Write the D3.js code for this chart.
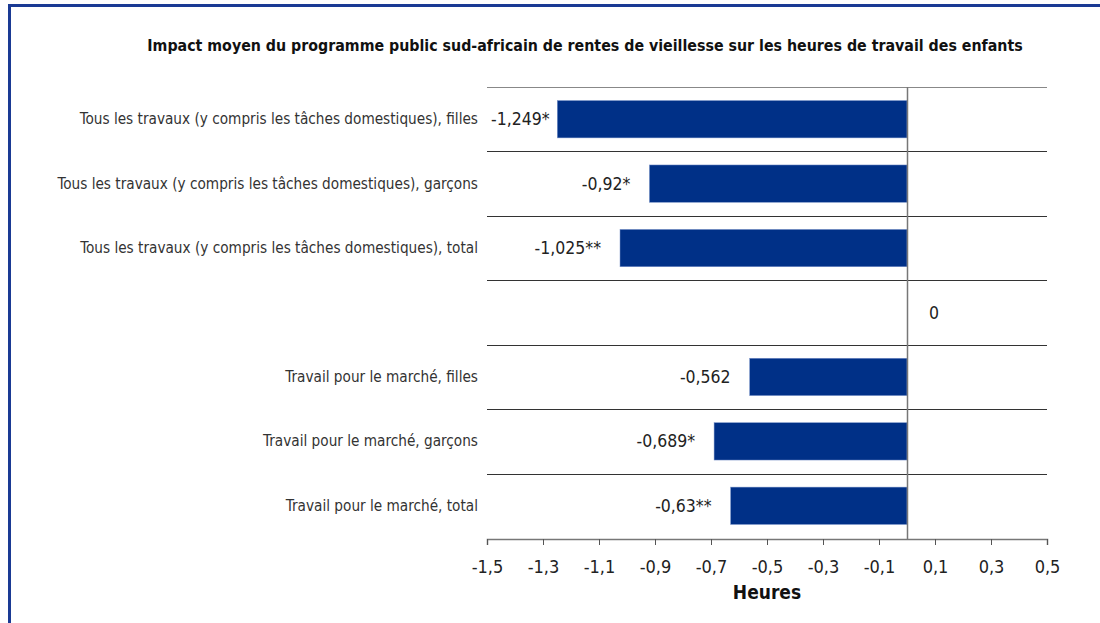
<!DOCTYPE html>
<html>
<head>
<meta charset="utf-8">
<script src="https://d3js.org/d3.v7.min.js"></script>
<style>
  body { margin: 0; background: #fff; }
  svg { display: block; }
</style>
</head>
<body>
<script>
var categories = [
  "Tous les travaux (y compris les tâches domestiques), filles",
  "Tous les travaux (y compris les tâches domestiques), garçons",
  "Tous les travaux (y compris les tâches domestiques), total",
  "",
  "Travail pour le marché, filles",
  "Travail pour le marché, garçons",
  "Travail pour le marché, total"
];
var values = [-1.249, -0.92, -1.025, 0, -0.562, -0.689, -0.63];
var valueLabels = ["-1,249*", "-0,92*", "-1,025**", "0", "-0,562", "-0,689*", "-0,63**"];
var xTicks = [-1.5, -1.3, -1.1, -0.9, -0.7, -0.5, -0.3, -0.1, 0.1, 0.3, 0.5];

var W = 1100, H = 623;
var font = "'DejaVu Sans Condensed', 'Liberation Sans Narrow', sans-serif";

var svg = d3.select("body").append("svg")
    .attr("width", W).attr("height", H)
    .style("font-family", font);

// frame
svg.append("rect")
    .attr("x", 9.5).attr("y", 5.5)
    .attr("width", W + 20).attr("height", H + 20)
    .attr("fill", "none").attr("stroke", "#1a3a94").attr("stroke-width", 3);

svg.append("text")
    .attr("x", 585).attr("y", 51)
    .attr("text-anchor", "middle")
    .attr("font-size", 15.8).attr("font-weight", "bold").attr("fill", "#111")
    .text("Impact moyen du programme public sud-africain de rentes de vieillesse sur les heures de travail des enfants");

var x = d3.scaleLinear().domain([-1.5, 0.5]).range([487, 1047]);
var y = d3.scaleBand().domain(d3.range(categories.length)).range([87, 538]).paddingInner(0.42).paddingOuter(0.21);
var band = d3.scaleBand().domain(d3.range(categories.length)).range([87, 538]);

// grid lines between categories
svg.selectAll("line.grid")
    .data(d3.range(categories.length))
    .enter().append("line")
    .attr("x1", x(-1.5)).attr("x2", x(0.5))
    .attr("y1", function(i) { return Math.round(band(i)) + 0.5; })
    .attr("y2", function(i) { return Math.round(band(i)) + 0.5; })
    .attr("stroke", function(i) { return i === 0 ? "#888" : "#333"; })
    .attr("stroke-width", 1);

svg.selectAll("rect.bar")
    .data(values)
    .enter().append("rect")
    .attr("x", function(d) { return x(d); })
    .attr("y", function(d, i) { return y(i); })
    .attr("width", function(d) { return x(0) - x(d); })
    .attr("height", y.bandwidth())
    .attr("fill", "#003087")
    .attr("stroke", "#7f97cc").attr("stroke-width", 0.5);

// zero line
svg.append("line")
    .attr("x1", Math.round(x(0)) + 0.5).attr("x2", Math.round(x(0)) + 0.5)
    .attr("y1", 87).attr("y2", 539)
    .attr("stroke", "#777").attr("stroke-width", 1.5);

// category labels
svg.selectAll("text.cat")
    .data(categories)
    .enter().append("text")
    .attr("x", 478)
    .attr("y", function(d, i) { return band(i) + band.bandwidth() / 2 + 5; })
    .attr("text-anchor", "end")
    .attr("font-size", 15.2).attr("fill", "#333")
    .text(function(d) { return d; });

// value labels
svg.selectAll("text.val")
    .data(values)
    .enter().append("text")
    .attr("y", function(d, i) { return band(i) + band.bandwidth() / 2 + 6; })
    .attr("font-size", 17.5).attr("fill", "#222")
    .text(function(d, i) { return valueLabels[i]; })
    .each(function(d) {
      var t = d3.select(this);
      var w = this.getComputedTextLength();
      if (d === 0) {
        t.attr("x", x(0) + 22);
      } else {
        var xs = x(d) - 19 - w;
        if (xs < x(-1.5) + 4) xs = x(-1.5) + 4;
        t.attr("x", xs);
      }
    });

// x axis
var axis = d3.axisBottom(x)
    .tickValues(xTicks)
    .tickSize(6)
    .tickFormat(function(d) { return d3.format(".1f")(d).replace(".", ",").replace("−", "-"); });

var g = svg.append("g")
    .attr("transform", "translate(0,539)")
    .call(axis);
g.select(".domain").attr("stroke", "#777").attr("stroke-width", 1.5);
g.selectAll(".tick line").attr("stroke", "#555");
g.selectAll(".tick text")
    .attr("font-family", font).attr("font-size", 18).attr("fill", "#222")
    .attr("y", 21).attr("dy", "0.71em");

svg.append("text")
    .attr("x", 767).attr("y", 599)
    .attr("text-anchor", "middle")
    .attr("font-size", 19).attr("font-weight", "bold").attr("fill", "#111")
    .text("Heures");
</script>
</body>
</html>
